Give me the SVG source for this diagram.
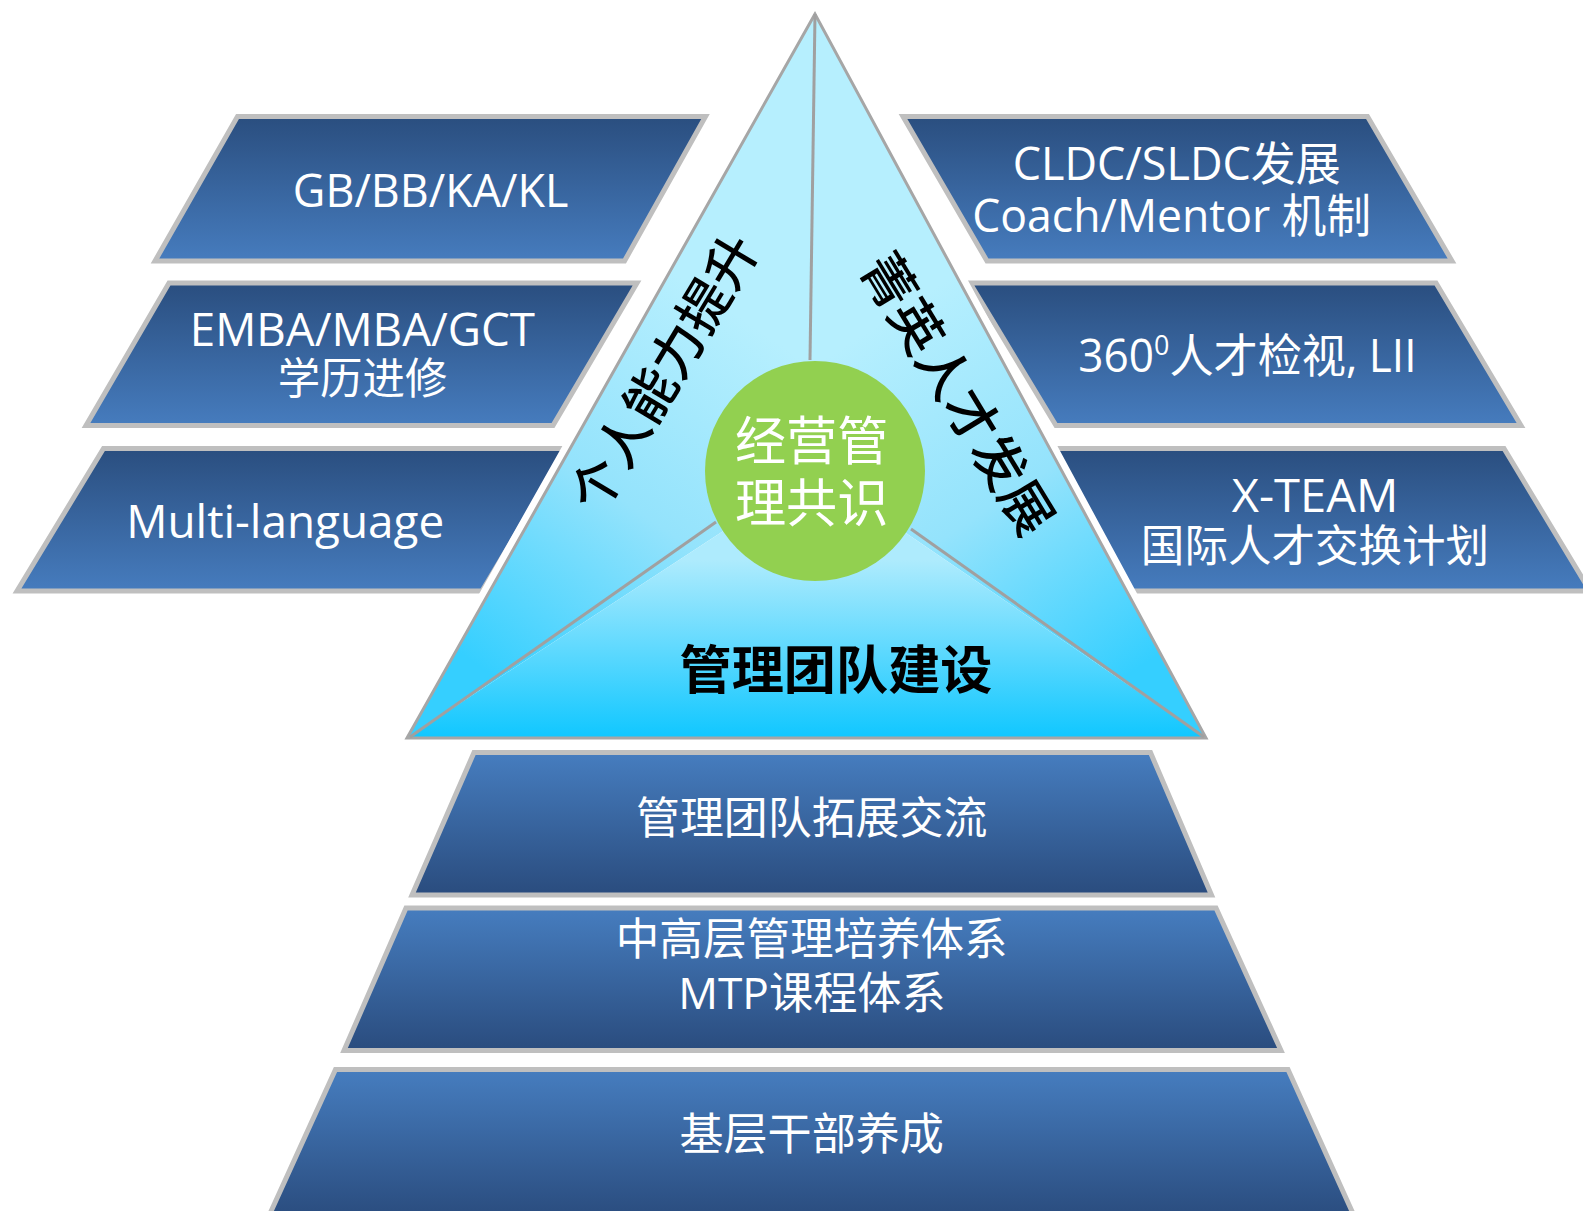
<svg xmlns="http://www.w3.org/2000/svg" width="1583" height="1211" viewBox="0 0 1583 1211">
<defs>
<linearGradient id="boxGrad" x1="0" y1="0" x2="0" y2="1">
<stop offset="0" stop-color="#2a4e7f"/><stop offset="1" stop-color="#467cbe"/>
</linearGradient>
<linearGradient id="trapGrad" x1="0" y1="0" x2="0" y2="1">
<stop offset="0" stop-color="#467dbf"/><stop offset="1" stop-color="#2a4c7e"/>
</linearGradient>
<linearGradient id="leftGrad" gradientUnits="userSpaceOnUse" x1="715" y1="300" x2="470" y2="660">
<stop offset="0" stop-color="#b6effe"/><stop offset="0.5" stop-color="#94e3fc"/><stop offset="1" stop-color="#35cfff"/>
</linearGradient>
<linearGradient id="rightGrad" gradientUnits="userSpaceOnUse" x1="915" y1="300" x2="1150" y2="660">
<stop offset="0" stop-color="#b6effe"/><stop offset="0.5" stop-color="#94e3fc"/><stop offset="1" stop-color="#35cfff"/>
</linearGradient>
<linearGradient id="botGrad" gradientUnits="userSpaceOnUse" x1="0" y1="560" x2="0" y2="738">
<stop offset="0" stop-color="#aeebfd"/><stop offset="1" stop-color="#10c7ff"/>
</linearGradient>
<style>
.box{fill:url(#boxGrad);stroke:#bfbfbf;stroke-width:5;stroke-linejoin:miter}
.trap{fill:url(#trapGrad);stroke:#bfbfbf;stroke-width:5}
.t{font-family:"Open Sans","Noto Sans CJK SC",sans-serif;fill:#ffffff;text-anchor:middle}
.cj{font-family:"Noto Sans CJK SC","Open Sans",sans-serif;text-anchor:middle}
.div{stroke:#a0a0a0;stroke-width:3;fill:none}
</style>
</defs>
<rect width="1583" height="1211" fill="#ffffff"/>

<g id="left-box-1">
<polygon class="box" points="237.5,116.5 705.5,116.5 624.5,261 155,261"/>
<text class="t" x="430.6" y="207" font-size="46" textLength="275.6" lengthAdjust="spacingAndGlyphs">GB/BB/KA/KL</text>
</g>
<g id="left-box-2">
<polygon class="box" points="169,283 637,283 553,425.5 86,425.5"/>
<text class="t" x="362.4" y="346.3" font-size="46" textLength="345.3" lengthAdjust="spacingAndGlyphs">EMBA/MBA/GCT</text>
<text class="t" x="362.5" y="393.7" font-size="43" textLength="169.6" lengthAdjust="spacingAndGlyphs">学历进修</text>
</g>
<g id="left-box-3">
<polygon class="box" points="103.5,448.5 567,448.5 482,591 17,591"/>
<text class="t" x="285.2" y="538" font-size="46" textLength="318" lengthAdjust="spacingAndGlyphs">Multi-language</text>
</g>

<g id="right-box-1">
<polygon class="box" points="903,116.5 1367.5,116.5 1452,261 987,261"/>
<text class="t" x="1176.7" y="179.7" font-size="46" textLength="328" lengthAdjust="spacingAndGlyphs">CLDC/SLDC发展</text>
<text class="t" x="1171.6" y="232.2" font-size="46" textLength="398.8" lengthAdjust="spacingAndGlyphs">Coach/Mentor 机制</text>
</g>
<g id="right-box-2">
<polygon class="box" points="970,283 1436,283 1521,425.5 1056,425.5"/>
<text class="t" x="1247.4" y="371.5" font-size="46" textLength="338.2" lengthAdjust="spacingAndGlyphs">360<tspan font-size="28" dy="-17">0</tspan><tspan dy="17">人才检视, LII</tspan></text>
</g>
<g id="right-box-3">
<polygon class="box" points="1040,448.5 1504,448.5 1590,591 1123,591"/>
<text class="t" x="1315" y="511.9" font-size="46" textLength="166.6" lengthAdjust="spacingAndGlyphs">X-TEAM</text>
<text class="t" x="1315" y="562.3" font-size="44" textLength="348.3" lengthAdjust="spacingAndGlyphs">国际人才交换计划</text>
</g>

<g id="core-triangle">
<polygon points="815,14 407,738 1206,738" fill="none" stroke="#ffffff" stroke-width="16" stroke-linejoin="miter"/>
<polygon points="815,14 815,471 407,738" fill="url(#leftGrad)"/>
<polygon points="815,14 1206,738 815,471" fill="url(#rightGrad)"/>
<polygon points="407,738 815,471 1206,738" fill="url(#botGrad)"/>
<polygon points="815,14 407,738 1206,738" fill="none" stroke="#a6a6a6" stroke-width="3"/>
</g>

<g id="connectors">
<line class="div" x1="815" y1="14" x2="810" y2="360"/>
<line class="div" x1="716" y1="522" x2="410" y2="737"/>
<line class="div" x1="911" y1="529" x2="1204" y2="737"/>
</g>

<g id="label-individual">
<text class="cj" transform="translate(661,371) rotate(-59)" font-size="52" font-weight="500" fill="#000000" dominant-baseline="central">个人能力提升</text>
</g>
<g id="label-elite">
<text class="cj" transform="translate(961,392) rotate(58.7)" font-size="53" font-weight="500" fill="#000000" dominant-baseline="central">菁英人才发展</text>
</g>
<g id="label-team">
<text class="cj" x="836" y="688.5" font-size="52" font-weight="bold" fill="#000000" textLength="313" lengthAdjust="spacingAndGlyphs">管理团队建设</text>
</g>

<g id="core-circle">
<circle cx="815" cy="471" r="110" fill="#92d050"/>
<text class="cj" x="811.7" y="460.4" font-size="52" fill="#ffffff" textLength="153.5" lengthAdjust="spacingAndGlyphs">经营管</text>
<text class="cj" x="811.7" y="522" font-size="52" fill="#ffffff" textLength="153.5" lengthAdjust="spacingAndGlyphs">理共识</text>
</g>

<g id="tier-1">
<polygon class="trap" points="474,752.5 1150.5,752.5 1211.5,895 412,895"/>
<text class="t" x="811.7" y="834" font-size="44" textLength="351.3" lengthAdjust="spacingAndGlyphs">管理团队拓展交流</text>
</g>
<g id="tier-2">
<polygon class="trap" points="406,908 1216,908 1281,1050.5 344,1050.5"/>
<text class="t" x="811.7" y="955" font-size="44" textLength="391.7" lengthAdjust="spacingAndGlyphs">中高层管理培养体系</text>
<text class="t" x="812" y="1008.6" font-size="44" textLength="267.5" lengthAdjust="spacingAndGlyphs">MTP课程体系</text>
</g>
<g id="tier-3">
<polygon class="trap" points="335.5,1069.5 1288,1069.5 1355,1218 268,1218"/>
<text class="t" x="811.7" y="1150" font-size="44" textLength="264.5" lengthAdjust="spacingAndGlyphs">基层干部养成</text>
</g>
</svg>
